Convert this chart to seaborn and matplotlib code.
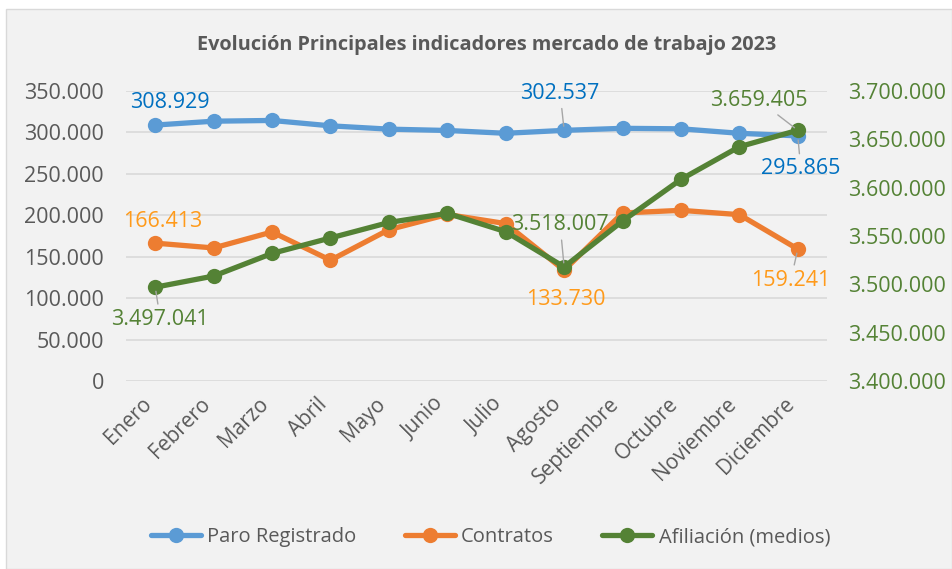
import matplotlib
matplotlib.use("Agg")
import matplotlib.pyplot as plt
import matplotlib.transforms as mtransforms
from matplotlib.patches import Rectangle
from matplotlib.lines import Line2D
import seaborn as sns

meses = ["Enero", "Febrero", "Marzo", "Abril", "Mayo", "Junio", "Julio",
         "Agosto", "Septiembre", "Octubre", "Noviembre", "Diciembre"]
paro = [308929, 313600, 314500, 308000, 304000, 302400, 299000,
        302537, 305000, 304400, 299000, 295865]
contratos = [166413, 160600, 179900, 145800, 182700, 201000, 190000,
             133730, 202800, 206000, 200800, 159241]
afiliacion = [3497041, 3508600, 3532000, 3548000, 3564000, 3573500, 3554500,
              3518007, 3565500, 3608600, 3642400, 3659405]
left_ticks = [0, 50000, 100000, 150000, 200000, 250000, 300000, 350000]
right_ticks = [3400000, 3450000, 3500000, 3550000, 3600000, 3650000, 3700000]

def fmt(v):
    return f"{v:,.0f}".replace(",", ".")

sns.set_theme(style="white")
plt.rcParams["font.family"] = ["Open Sans", "DejaVu Sans"]

azul, naranja, verde = "#5B9BD5", "#ED7D31", "#548235"
gris = "#595959"

fig = plt.figure(figsize=(9.52, 5.69), dpi=100)
fig.patch.set_facecolor("white")
fig.patches.append(Rectangle((0.006, 0.0), 0.994, 0.984, transform=fig.transFigure,
                             facecolor="#F2F2F2", edgecolor="#D9D9D9", lw=1, zorder=-10))

ax = fig.add_axes([0.1324, 0.3304, 0.7363, 0.5096])
ax.set_facecolor("none")
ax2 = ax.twinx()
x = list(range(len(meses)))

sns.lineplot(x=x, y=paro, ax=ax, color=azul, lw=3.8, marker="o", markersize=11,
             markeredgewidth=0, sort=False, zorder=3)
sns.lineplot(x=x, y=contratos, ax=ax, color=naranja, lw=3.8, marker="o", markersize=11,
             markeredgewidth=0, sort=False, zorder=3)
sns.lineplot(x=x, y=afiliacion, ax=ax2, color=verde, lw=3.8, marker="o", markersize=11,
             markeredgewidth=0, sort=False, zorder=3)

ax.set_xlim(-0.5, 11.5)
ax.set_ylim(0, 350000)
ax2.set_ylim(3400000, 3700000)
ax.set_yticks(left_ticks)
ax.set_yticklabels([fmt(v) for v in left_ticks])
ax2.set_yticks(right_ticks)
ax2.set_yticklabels([fmt(v) for v in right_ticks])
ax.grid(axis="y", color="#D9D9D9", lw=1.2)
ax.set_axisbelow(True)
for a in (ax, ax2):
    for s in a.spines.values():
        s.set_visible(False)
ax.tick_params(axis="y", length=0, pad=16, labelsize=15.5, labelcolor=gris)
ax2.tick_params(axis="y", length=0, pad=15, labelsize=15.5, labelcolor=verde)
ax.set_xticks(x)
ax.set_xticklabels(meses, rotation=45, ha="right", rotation_mode="anchor")
ax.tick_params(axis="x", length=0, pad=9, labelsize=15, labelcolor=gris)
off = mtransforms.ScaledTranslation(-10 / 72, 0, fig.dpi_scale_trans)
for lbl in ax.get_xticklabels():
    lbl.set_transform(lbl.get_transform() + off)

lead = dict(arrowstyle="-", color="#A6A6A6", lw=1, shrinkA=1, shrinkB=3)
etiquetas = [
    (ax, 0, paro[0], (15, 23), "#0070C0", None),
    (ax, 7, paro[7], (-4, 37), "#0070C0", lead),
    (ax, 11, paro[11], (3, -33), "#0070C0", lead),
    (ax, 0, contratos[0], (7, 22), "#FF9A1A", None),
    (ax, 7, contratos[7], (2, -29), "#FF9A1A", None),
    (ax, 11, contratos[11], (-7, -31), "#FF9A1A", lead),
    (ax2, 0, afiliacion[0], (5, -32), verde, lead),
    (ax2, 7, afiliacion[7], (-4, 42), verde, lead),
    (ax2, 11, afiliacion[11], (-39, 30), verde, lead),
]
for a, i, v, (dx, dy), c, ap in etiquetas:
    a.annotate(fmt(v), xy=(i, v), xytext=(dx * 0.72, dy * 0.72), textcoords="offset points",
               ha="center", va="center", fontsize=15.5, color=c, arrowprops=ap, zorder=5)

fig.text(0.511, 1 - 45 / 569, "Evolución Principales indicadores mercado de trabajo 2023",
         ha="center", va="center", fontsize=14.3, fontweight="bold", color=gris)

handles = [Line2D([], [], color=col, lw=3.8, marker="o", markersize=11, markeredgewidth=0)
           for col in (azul, naranja, verde)]
fig.legend(handles, ["Paro Registrado", "Contratos", "Afiliación (medios)"],
           loc="center", bbox_to_anchor=(0.515, 1 - 537 / 569), ncol=3, frameon=False,
           fontsize=14.5, labelcolor=gris, handlelength=2.5, handletextpad=0.3,
           columnspacing=2.4)

fig.savefig("out.png", dpi=100, facecolor=fig.get_facecolor())
